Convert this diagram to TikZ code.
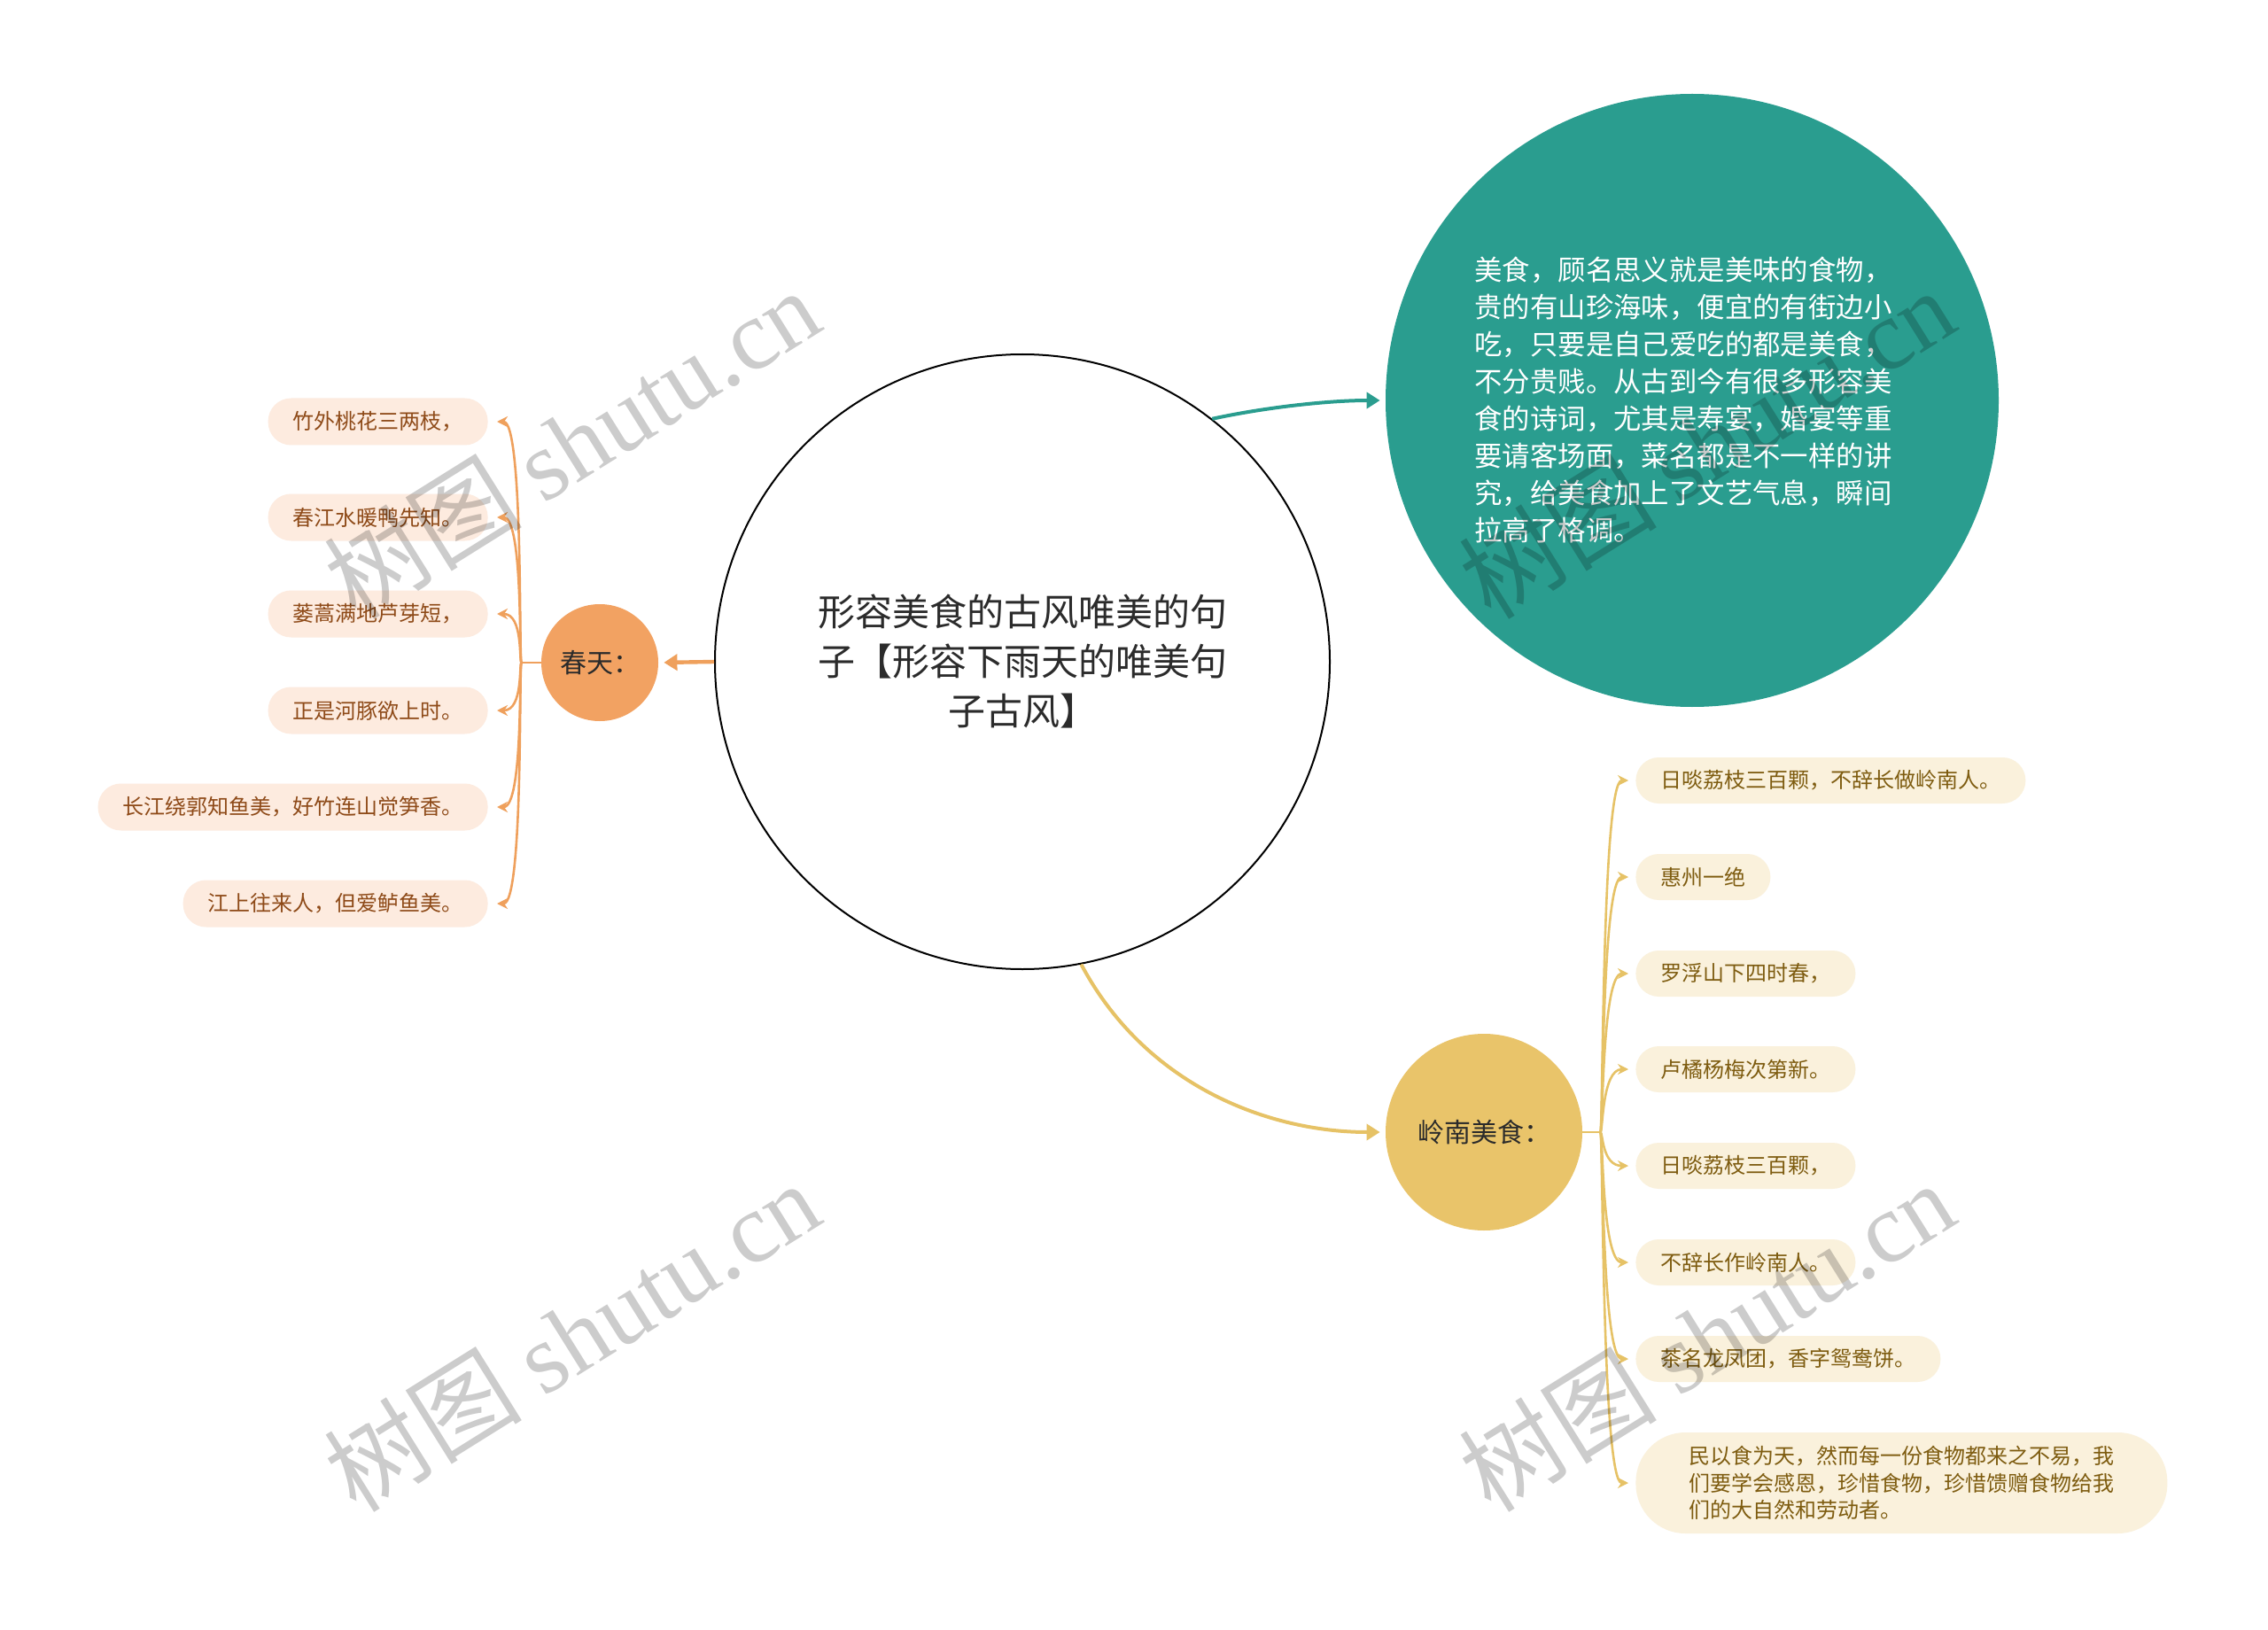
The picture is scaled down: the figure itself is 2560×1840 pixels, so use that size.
\documentclass[tikz,border=0pt]{standalone}
\usepackage{fontspec}
\setmainfont{Noto Sans CJK SC}
\newfontfamily\wmserif{Liberation Serif}
\newfontfamily\wmcjk{Noto Sans CJK SC}
\usetikzlibrary{arrows.meta}
\definecolor{orangeC}{HTML}{F2A262}
\definecolor{orangeL}{HTML}{EFA05C}
\definecolor{peach}{HTML}{FDEBDF}
\definecolor{brownT}{HTML}{8E4A18}
\definecolor{tealC}{HTML}{2A9D8F}
\definecolor{goldC}{HTML}{E9C46A}
\definecolor{goldL}{HTML}{E6C266}
\definecolor{cream}{HTML}{FAF1DC}
\definecolor{goldT}{HTML}{7E5C10}
\definecolor{darkT}{HTML}{2B2B2B}
\begin{document}
\begin{tikzpicture}[x=0.5pt,y=-0.5pt,
  maincirc/.style={circle,draw=black,line width=1pt,fill=white,minimum size=347pt,inner sep=0pt,
    align=center,text=darkT,font=\fontsize{21pt}{28pt}\selectfont},
  tealcirc/.style={circle,fill=tealC,minimum size=346pt,inner sep=0pt},
  tealtext/.style={align=left,text=white,inner sep=0pt,font=\fontsize{15.7pt}{21pt}\selectfont},
  orcirc/.style={circle,fill=orangeC,minimum size=66pt,inner sep=0pt,text=darkT,
    font=\fontsize{15pt}{18pt}\selectfont},
  gdcirc/.style={circle,fill=goldC,minimum size=111pt,inner sep=0pt,text=darkT,
    font=\fontsize{15pt}{18pt}\selectfont},
  lleaf/.style={rectangle,rounded corners=13pt,fill=peach,minimum height=26.5pt,inner xsep=14pt,
    inner ysep=0pt,text=brownT,font=\fontsize{12pt}{15pt}\selectfont,anchor=east},
  rleaf/.style={rectangle,rounded corners=13pt,fill=cream,minimum height=26pt,inner xsep=14pt,
    inner ysep=0pt,text=goldT,font=\fontsize{12pt}{15pt}\selectfont,anchor=west},
  obr/.style={draw=orangeL,line width=1.3pt,-{Stealth[length=6pt,width=6pt]},shorten >=5pt},
  gbr/.style={draw=goldL,line width=1.3pt,-{Stealth[length=6pt,width=6pt]},shorten >=4pt},
  mainarr/.style={line width=2pt,-{Triangle[length=7.5pt,width=9pt]},shorten >=3pt},
  wm/.style={text=black,text opacity=0.2,font=\fontsize{56pt}{56pt}\selectfont,inner sep=0pt}
]
\useasboundingbox (0,0) rectangle (2560,1840);
\fill[white] (0,0) rectangle (2560,1840);

% central topic
\node[maincirc] (c) at (1154,747) {形容美食的古风唯美的句\\子【形容下雨天的唯美句\\子古风】};

% teal description
\node[tealcirc] (t) at (1910,452) {};
\node[tealtext] (tt) at (1900,451) {美食，顾名思义就是美味的食物，\\贵的有山珍海味，便宜的有街边小\\吃，只要是自己爱吃的都是美食，\\不分贵贱。从古到今有很多形容美\\食的诗词，尤其是寿宴，婚宴等重\\要请客场面，菜名都是不一样的讲\\究，给美食加上了文艺气息，瞬间\\拉高了格调。};

% spring
\node[orcirc] (chun) at (677,748) {春天：};
\node[lleaf] (l1) at (551,476) {竹外桃花三两枝，};
\node[lleaf] (l2) at (551,584) {春江水暖鸭先知。};
\node[lleaf] (l3) at (551,693) {蒌蒿满地芦芽短，};
\node[lleaf] (l4) at (551,802) {正是河豚欲上时。};
\node[lleaf] (l5) at (551,911) {长江绕郭知鱼美，好竹连山觉笋香。};
\node[lleaf] (l6) at (551,1020) {江上往来人，但爱鲈鱼美。};

% lingnan
\node[gdcirc] (ln) at (1675,1278) {岭南美食：};
\node[rleaf] (r1) at (1846,881) {日啖荔枝三百颗，不辞长做岭南人。};
\node[rleaf] (r2) at (1846,990) {惠州一绝};
\node[rleaf] (r3) at (1846,1099) {罗浮山下四时春，};
\node[rleaf] (r4) at (1846,1207) {卢橘杨梅次第新。};
\node[rleaf] (r5) at (1846,1316) {日啖荔枝三百颗，};
\node[rleaf] (r6) at (1846,1425) {不辞长作岭南人。};
\node[rleaf] (r7) at (1846,1534) {茶名龙凤团，香字鸳鸯饼。};
\node[rleaf,rounded corners=28pt,minimum height=57pt,inner xsep=30pt,align=left,
  font=\fontsize{12pt}{15.3pt}\selectfont] (r8) at (1846,1674)
  {民以食为天，然而每一份食物都来之不易，我\\们要学会感恩，珍惜食物，珍惜馈赠食物给我\\们的大自然和劳动者。};

% main connectors
\draw[mainarr,draw=orangeL,line width=2.2pt] (c.west) -- (chun.east);
\draw[mainarr,draw=tealC] (c.52.5) .. controls +(65,-14) and +(-60,0) .. (t.west);
\draw[mainarr,draw=goldL] (c.-79.8) .. controls +(74,139) and +(-129,0) .. (ln.west);

% spring branches
\draw[draw=orangeL,line width=1.3pt] (chun.west) -- ++(-22,0) coordinate (cj);
\foreach \k in {1,...,6}{
  \draw[obr] (cj) .. controls +(-3,0) and +(40,0) .. (l\k.east);
}

% lingnan branches
\draw[draw=goldL,line width=1.3pt] (ln.east) -- ++(20,0) coordinate (rj);
\foreach \k in {1,...,8}{
  \draw[gbr] (rj) .. controls +(3,0) and +(-38,0) .. (r\k.west);
}

% watermarks
\node[wm,rotate=32] (w1) at (645,500) {\wmcjk 树图 \wmserif shutu.cn};
\node[wm,rotate=32] (w2) at (645,1508) {\wmcjk 树图 \wmserif shutu.cn};
\node[wm,rotate=32] (w3) at (1926,500) {\wmcjk 树图 \wmserif shutu.cn};
\node[wm,rotate=32] (w4) at (1926,1508) {\wmcjk 树图 \wmserif shutu.cn};
\end{tikzpicture}
\end{document}
